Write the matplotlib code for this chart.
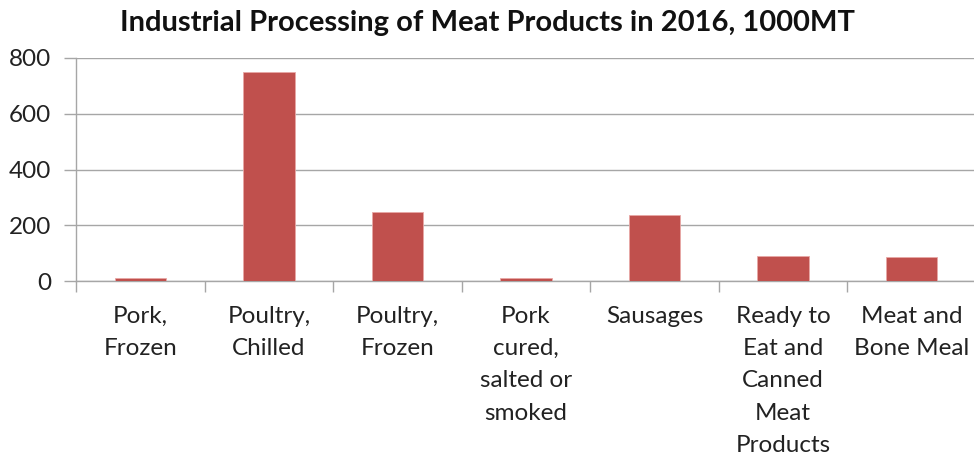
import matplotlib
matplotlib.use("Agg")
import matplotlib.pyplot as plt
import numpy as np

categories = [
    "Pork,\nFrozen",
    "Poultry,\nChilled",
    "Poultry,\nFrozen",
    "Pork\ncured,\nsalted or\nsmoked",
    "Sausages",
    "Ready to\nEat and\nCanned\nMeat\nProducts",
    "Meat and\nBone Meal",
]
values = [11, 748, 249, 10, 235, 89, 85]
y_ticks = [0, 200, 400, 600, 800]

plt.rcParams["font.family"] = ["Lato", "DejaVu Sans"]

W, H = 974, 457
fig = plt.figure(figsize=(W / 100, H / 100), dpi=100)
ax = fig.add_axes([76 / W, (H - 281) / H, 900 / W, (281 - 58) / H])

x = np.arange(len(categories))
ax.bar(x, values, width=0.40, color="#C0504D", edgecolor="#E8A8A6", linewidth=0.6, zorder=3)

ax.set_xlim(-0.5, len(categories) - 0.5)
ax.set_ylim(0, 800)
ax.set_yticks(y_ticks)
ax.set_yticklabels([str(v) for v in y_ticks], fontsize=17.5, color="#222222")
ax.yaxis.grid(True, color="#A6A6A6", linewidth=1.0, zorder=0)

ax.set_xticks(x)
ax.set_xticklabels(categories, fontsize=17.5, color="#222222", linespacing=1.66, va="top")
ax.set_xticks(np.arange(-0.5, len(categories), 1.0), minor=True)
ax.tick_params(axis="x", which="major", length=0, pad=18)
ax.tick_params(axis="x", which="minor", length=8, color="#A6A6A6", width=1.0)
ax.tick_params(axis="y", length=9, color="#A6A6A6", width=1.0, pad=9)

for side in ("top", "right"):
    ax.spines[side].set_visible(False)
for side in ("left", "bottom"):
    ax.spines[side].set_color("#A6A6A6")
    ax.spines[side].set_linewidth(1.0)

fig.text(487 / W, 1 - 23 / H, "Industrial Processing of Meat Products in 2016, 1000MT",
         ha="center", va="center", fontsize=21, fontweight="bold", color="#111111")

fig.savefig("out.png", dpi=100, facecolor="white")
